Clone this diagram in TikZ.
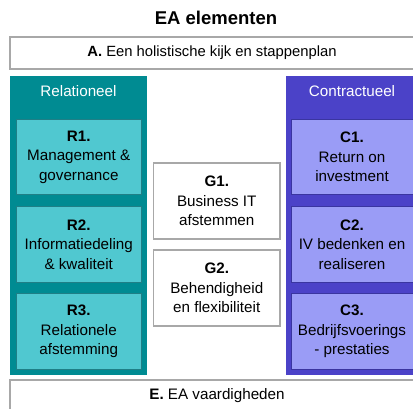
\documentclass[tikz,border=0pt]{standalone}
\usepackage{fontspec}
\setmainfont{Liberation Sans}
\definecolor{tealdark}{HTML}{008B92}
\definecolor{teallight}{HTML}{50C8D0}
\definecolor{tealedge}{HTML}{1F7F86}
\definecolor{purpdark}{HTML}{4B42C8}
\definecolor{purplight}{HTML}{9A9CF6}
\definecolor{purpedge}{HTML}{3A35A0}
\definecolor{greyedge}{HTML}{A8A8A8}
\begin{document}
\begin{tikzpicture}[x=1pt,y=-1pt,
  txt/.style={font=\fontsize{15.2}{19.5}\selectfont, align=center, text=black},
  whitebox/.style={draw=greyedge, line width=1.2pt, fill=white},
  rpanel/.style={draw=none, fill=tealdark},
  rbox/.style={draw=tealedge, line width=1pt, fill=teallight},
  cpanel/.style={draw=none, fill=purpdark},
  cbox/.style={draw=purpedge, line width=1pt, fill=purplight}]
\useasboundingbox (0,0) rectangle (413,409);
\fill[white] (0,0) rectangle (413,409);
% title
\node[font=\fontsize{18.5}{22}\selectfont\bfseries] (title) at (216,18) {EA elementen};
% A box
\draw[whitebox] (10,37) rectangle (420,69);
\node[txt, font=\fontsize{14.8}{19}\selectfont] (A) at (212,53) {\textbf{A.} Een holistische kijk en stappenplan};
% Relationeel panel
\fill[rpanel] (10,76) rectangle (147,375);
\node[txt, text=white] (rel) at (78.5,91) {Relationeel};
\draw[rbox] (16,119.5) rectangle (141.5,195);
\node[txt] (R1) at (78.75,157) {\textbf{R1.}\\Management \&\\governance};
\draw[rbox] (16,207) rectangle (141.5,282.5);
\node[txt] (R2) at (78.75,244.5) {\textbf{R2.}\\Informatiedeling\\\& kwaliteit};
\draw[rbox] (16,293.5) rectangle (141.5,369.5);
\node[txt] (R3) at (78.75,331.5) {\textbf{R3.}\\Relationele\\afstemming};
% Contractueel panel
\fill[cpanel] (285.5,76) rectangle (420,375);
\node[txt, text=white] (con) at (352,91) {Contractueel};
\draw[cbox] (291.5,119.5) rectangle (420,195);
\node[txt] (C1) at (352,157) {\textbf{C1.}\\Return on\\investment};
\draw[cbox] (291.5,207) rectangle (420,282.5);
\node[txt] (C2) at (352,244.5) {\textbf{C2.}\\IV bedenken en\\realiseren};
\draw[cbox] (291.5,293.5) rectangle (420,369.5);
\node[txt] (C3) at (352,331.5) {\textbf{C3.}\\Bedrijfsvoerings\\- prestaties};
% G boxes
\draw[whitebox] (153.5,163) rectangle (280,239);
\node[txt] (G1) at (216.75,201) {\textbf{G1.}\\Business IT\\afstemmen};
\draw[whitebox] (153.5,250) rectangle (280,326);
\node[txt] (G2) at (216.75,288) {\textbf{G2.}\\Behendigheid\\en flexibiliteit};
% E box
\draw[whitebox] (10,380) rectangle (420,420);
\node[txt] (E) at (217,396) {\textbf{E.} EA vaardigheden};
\end{tikzpicture}
\end{document}
